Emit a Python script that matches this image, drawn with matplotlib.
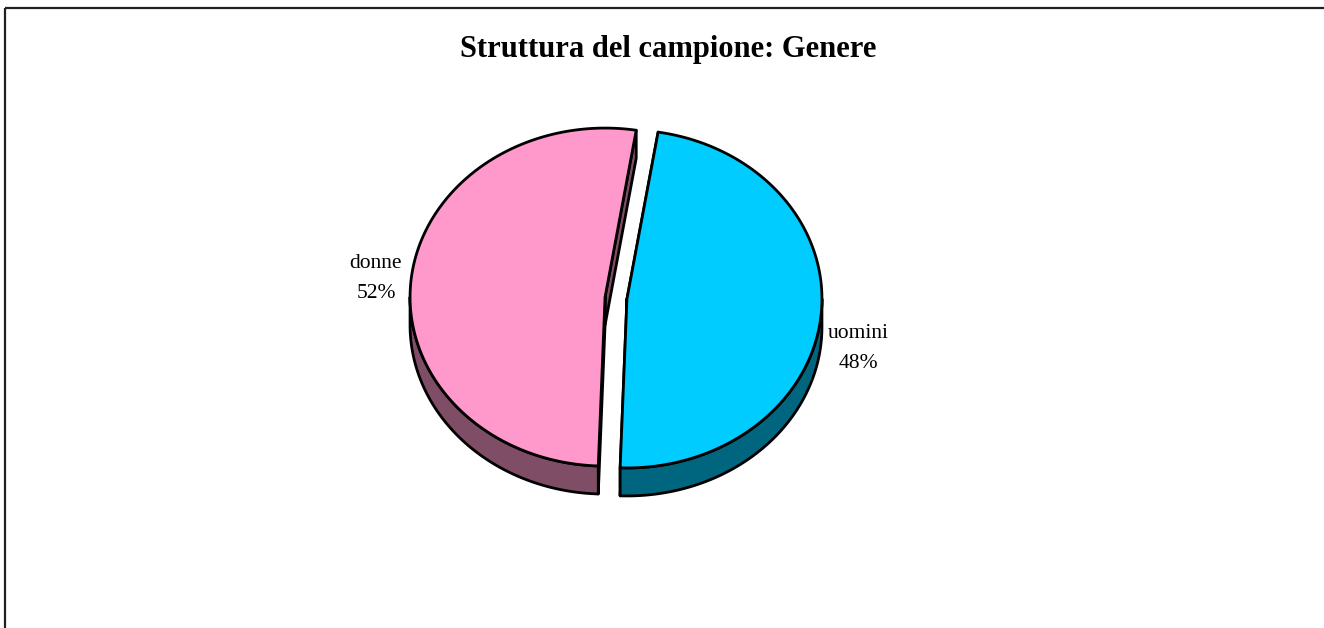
import numpy as np
import matplotlib
matplotlib.use("Agg")
import matplotlib.pyplot as plt
from matplotlib.patches import Polygon, Rectangle

# ---- data ----
title = "Struttura del campione: Genere"
categories = ["uomini", "donne"]
values = [48, 52]
top_colors = ["#00CCFF", "#FF99CC"]
side_colors = ["#006680", "#804D66"]

# ---- geometry (pixels) ----
W, H = 1324, 628
cx, cy = 616, 298
rx, ry = 195, 169
depth = 28
explode = 11
start_deg = 80.8  # clockwise from here

plt.rcParams['font.family'] = ['Liberation Serif', 'DejaVu Serif']
fig = plt.figure(figsize=(W / 100, H / 100), dpi=100)
ax = fig.add_axes([0, 0, 1, 1])
ax.set_xlim(0, W)
ax.set_ylim(H, 0)
ax.axis('off')

# frame
ax.add_patch(Rectangle((5, 8), W + 20, H + 20, fill=False, edgecolor='#202020', lw=1.6, zorder=0))

ax.text(668, 49, title, ha='center', va='center', fontsize=22, fontweight='bold')

def pt(c, t, dz=0.0):
    return (c[0] + rx * np.cos(np.radians(t)), c[1] - ry * np.sin(np.radians(t)) + dz)

total = float(sum(values))
a = start_deg
lw = 2.0
label_pos = {"uomini": (858, 333, 363), "donne": (376, 264, 294)}
for name, v, tc, sc in zip(categories, values, top_colors, side_colors):
    span = 360.0 * v / total
    t_end = a
    t_start = a - span
    mid = (t_start + t_end) / 2
    c = (cx + explode * np.cos(np.radians(mid)),
         cy - explode * (ry / rx) * np.sin(np.radians(mid)))
    # cut faces
    for t in (t_start, t_end):
        p = pt(c, t)
        poly = [c, p, (p[0], p[1] + depth), (c[0], c[1] + depth)]
        ax.add_patch(Polygon(poly, closed=True, facecolor=sc, edgecolor='black', lw=lw, joinstyle='round', zorder=2))
    # outer wall (front half only: 180..360)
    segs = []
    for shift in (-360, 0, 360):
        s0, s1 = t_start + shift, t_end + shift
        i0, i1 = max(s0, 180), min(s1, 360)
        if i1 > i0:
            segs.append((i0, i1))
    for i0, i1 in segs:
        ts = np.linspace(i0, i1, 120)
        top = [pt(c, t) for t in ts]
        bot = [pt(c, t, depth) for t in ts[::-1]]
        ax.add_patch(Polygon(top + bot, closed=True, facecolor=sc, edgecolor='black', lw=lw, joinstyle='round', zorder=3))
    # top face
    ts = np.linspace(t_start, t_end, 300)
    poly = [c] + [pt(c, t) for t in ts]
    ax.add_patch(Polygon(poly, closed=True, facecolor=tc, edgecolor='black', lw=lw, joinstyle='round', zorder=4))
    # labels
    lx, ly1, ly2 = label_pos[name]
    ax.text(lx, ly1, name, ha='center', va='center', fontsize=15.5)
    ax.text(lx, ly2, f"{v}%", ha='center', va='center', fontsize=15.5)
    a = t_start

fig.savefig("out.png", dpi=100)
